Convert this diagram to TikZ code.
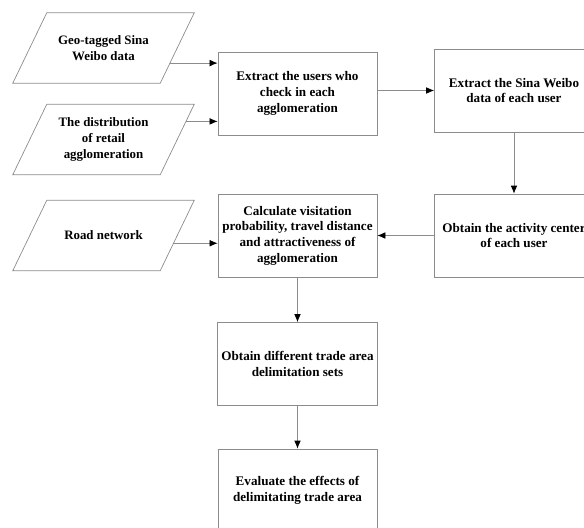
\documentclass[tikz,border=0pt]{standalone}
\usepackage{fontspec}
\setmainfont{Liberation Serif}
\usetikzlibrary{calc,arrows.meta}
\begin{document}
\begin{tikzpicture}[x=0.03cm,y=-0.03cm,
  line/.style={draw=black!45,line width=0.6pt},
  box/.style={line,minimum width=4.77cm,minimum height=2.49cm,align=center,font=\bfseries\fontsize{11.2}{13.4}\selectfont},
  data/.style={minimum width=4.41cm,minimum height=2.1cm,align=center,inner xsep=0pt,font=\bfseries\fontsize{11}{13.4}\selectfont},
  arr/.style={line,-{Latex[black,length=2.4mm,width=2mm]}}]
\useasboundingbox (0,0) rectangle (584,527);
\clip (0,0) rectangle (584,527);
% input data
\node[data] (geo) at (103.5,48) {Geo-tagged Sina\\Weibo data};
\node[data] (retail) at (103.5,139.5) {The distribution\\of retail\\agglomeration};
\node[data] (road) at (103.5,235.5) {Road network};
\foreach \n in {geo,retail,road}
  \draw[line] ($(\n.north west)+(17,0)$) -- ($(\n.north east)+(17,0)$) -- ($(\n.south east)+(-17,0)$) -- ($(\n.south west)+(-17,0)$) -- cycle;
% processing steps
\node[box] (users) at (297.5,93.5) {Extract the users who\\check in each\\agglomeration};
\node[box] (weibo) at (514,90.5) {Extract the Sina Weibo\\data of each user};
\node[box] (center) at (514,235.5) {Obtain the activity center\\of each user};
\node[box] (calc) at (297.5,235.5) {Calculate visitation\\probability, travel distance\\and attractiveness of\\agglomeration};
\node[box] (sets) at (297.5,364) {Obtain different trade area\\delimitation sets};
\node[box] (eval) at (297.5,490.5) {Evaluate the effects of\\delimitating trade area};
% connectors
\coordinate (g1) at ($($(geo.south east)+(-17,0)$)!0.286!($(geo.north east)+(17,0)$)$);
\coordinate (r1) at ($($(retail.south east)+(-17,0)$)!0.757!($(retail.north east)+(17,0)$)$);
\coordinate (d1) at ($($(road.south east)+(-17,0)$)!0.39!($(road.north east)+(17,0)$)$);
\draw[arr] (g1) -- (g1 -| users.west);
\draw[arr] (r1) -- (r1 -| users.west);
\draw[arr] (d1) -- (d1 -| calc.west);
\draw[arr] (users.east |- weibo.west) -- (weibo.west);
\draw[arr] (weibo) -- (center);
\draw[arr] (center) -- (calc);
\draw[arr] (calc) -- (sets);
\draw[arr] (sets) -- (eval);
\end{tikzpicture}
\end{document}
